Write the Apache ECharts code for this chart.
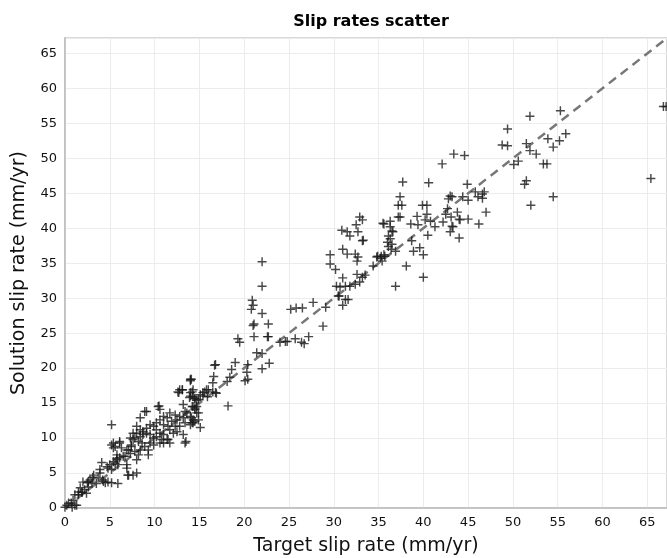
<!DOCTYPE html>
<html>
<head>
<meta charset="utf-8">
<title>Slip rates scatter</title>
<script src="https://cdn.jsdelivr.net/npm/echarts@6/dist/echarts.min.js"></script>
<style>
  html, body { margin: 0; padding: 0; background: #fff; }
  #chart { width: 667px; height: 558px; }
</style>
</head>
<body>
<div id="chart"></div>
<script>
  // [target, solution] in mm/yr
  var lowPoints = [
    [0.0,0.1],[0.2,0.4],[0.4,0.7],[0.7,0.7],[0.8,0.1],[0.9,1.1],[1.1,0.4],[1.1,1.9],[1.3,0.4],[1.5,1.9],
    [1.5,2.3],[1.7,2.9],[1.9,2.2],[1.9,2.3],[2.0,3.7],[2.2,2.6],[2.4,2.1],[2.5,3.6],[2.6,3.0],[2.6,3.8],
    [2.8,4.0],[3.0,3.7],[3.1,4.4],[3.2,4.7],[3.5,3.5],[3.7,4.3],[3.9,5.0],[3.9,5.5],[4.1,6.5],[4.2,4.0],
    [4.3,3.8],[4.5,3.6],[4.7,5.9],[4.8,3.7],[4.8,5.7],[5.0,6.2],[5.2,3.6],[5.2,5.5],[5.4,6.6],[5.6,6.4],
    [5.8,6.9],[5.8,7.1],[5.8,7.6],[5.9,3.5],[5.9,6.2],[6.1,7.2],[6.5,7.4],[6.7,7.4],[6.9,5.7],[6.9,6.2],
    [7.0,4.7],[7.1,4.7],[7.6,4.7],[8.0,5.0],[8.0,6.9],[5.2,9.0],[5.4,8.6],[5.4,9.3],[5.6,8.8],[6.1,9.3],
    [6.1,9.5],[6.3,8.6],[5.2,11.9],[6.9,8.3],[7.1,8.3],[7.3,7.8],[7.3,10.0],[7.4,8.8],[7.4,9.0],[7.6,9.8],
    [7.6,10.7],[7.8,8.1],[7.8,10.0],[8.0,10.7],[8.0,11.7],[8.2,7.6],[8.2,9.5],[8.4,8.3],[8.4,10.2],[8.4,11.2],
    [8.4,12.9],[8.6,9.3],[8.7,10.5],[8.7,10.9],[8.9,8.8],[8.9,13.8],[9.1,10.7],[9.1,11.4],[9.1,13.8],[9.3,7.6],
    [9.3,8.3],[9.5,9.3],[9.5,10.5],[9.5,11.9],[9.9,9.0],[9.9,10.0],[9.9,11.7],[10.2,10.2],[10.2,11.2],[10.2,12.2],
    [10.4,14.5],[10.5,14.6],[10.6,9.3],[10.6,10.7],[10.6,12.6],[10.6,14.1],[10.8,9.8],[11.0,9.3],[11.0,10.5],[11.0,11.9],
    [11.0,13.1],[11.4,9.8],[11.4,12.9],[11.5,9.8],[11.5,11.7],[11.7,9.3],[11.7,11.2],[11.7,13.6],[11.9,12.4],[12.1,10.7],
    [12.3,11.7],[12.3,13.3],[12.5,10.9],[12.5,12.6],[12.6,16.6],[12.7,16.5],[12.8,11.7],[12.8,13.1],[12.8,16.9],[13.1,16.9],
    [13.2,10.5],[13.2,12.9],[13.2,14.8],[13.4,9.3],[13.4,12.2],[13.4,13.8],[13.5,9.5],[13.6,13.6],[14.0,11.9],[14.0,13.1],
    [14.0,16.0],[14.0,16.5],[14.0,18.2],[14.0,18.4],[14.1,12.9],[14.1,18.4],[14.2,12.2],[14.2,14.5],[14.3,12.2],[14.3,12.6],
    [14.3,14.5],[14.3,15.9],[14.3,16.9],[14.5,12.4],[14.5,14.1],[14.5,14.3],[14.5,15.7],[14.7,13.6],[14.7,14.5],[14.9,12.6],
    [14.9,13.6],[14.9,15.5],[15.1,11.5],[15.1,16.2],[15.4,16.0],[15.6,16.6],[15.8,16.9],[15.9,15.9]
  ];
  var midPoints = [
    [13.1,16.9],[13.9,15.8],[14.2,16.6],[14.5,15.6],[14.7,15.4],[15.4,16.5],[16.0,16.9],[16.5,16.6],[16.9,16.4],
    [16.5,17.9],[16.6,18.8],[16.7,20.4],[16.8,20.5],[16.8,16.5],[18.1,18.1],[18.2,14.6],[18.4,18.7],[18.6,19.8],
    [19.0,20.8],[19.3,24.2],[19.5,23.7],[20.1,18.2],[20.3,19.4],[20.4,18.4],[20.4,20.5],[20.8,28.4],[20.9,29.7],
    [21.0,29.0],[21.0,26.1],[21.1,26.3],[21.1,24.5],[21.4,22.2],[22.0,22.1],[22.0,19.9],[22.0,27.8],[22.0,31.7],
    [22.0,35.2],[22.6,24.5],[22.7,24.5],[22.7,26.3],[22.8,20.7],[24.0,23.7],[24.6,23.8],[24.8,23.8],[25.2,28.4],
    [25.7,24.2],[25.8,28.6],[26.4,23.7],[26.5,28.6],[26.7,23.5],[27.2,24.5],[27.7,29.4],[28.8,26.0],[29.1,28.7],
    [29.6,34.9],[29.6,36.2],[30.2,34.1],[30.3,31.7],[30.5,30.3],[30.6,30.3],[30.7,31.6],[30.9,39.7],[31.0,29.0],
    [31.0,32.9],[31.0,37.0],[31.3,29.8],[31.3,31.7],[31.5,36.3],[31.5,39.5],[31.6,29.8],[31.8,31.7],[31.8,38.9],
    [32.4,32.0],[32.4,36.3],[32.5,40.5],[32.6,33.4],[32.6,35.3],[32.7,35.9],[32.7,39.5],[32.9,32.3],[32.9,41.6],
    [33.2,33.0],[33.2,38.2],[33.2,41.2],[33.3,38.3],[33.5,33.3],[34.4,34.6],[34.8,35.9],[34.9,36.0],[35.2,35.7],
    [35.3,36.0],[35.4,35.3],[35.5,40.7],[35.6,36.2],[35.6,40.6],[35.7,36.0],[36.0,38.0],[36.1,37.4],[36.1,38.9],
    [36.3,38.5],[36.3,40.2],[36.3,41.0],[36.4,37.0],[36.5,37.7],[36.5,39.6],[36.6,39.5],[36.9,31.7],[36.9,36.7],
    [37.2,41.6],[37.2,43.3],[37.4,41.6],[37.4,44.5],[37.6,43.3],[37.7,46.6],[38.1,34.6],[38.6,40.6],[38.7,38.2],
    [38.9,36.7],[39.3,41.7],[39.4,40.5],[39.6,37.2],[39.9,43.3],[40.0,33.0],[40.0,36.2],[40.2,41.2],[40.4,42.0],
    [40.4,43.3],[40.5,39.0],[40.6,46.5],[40.8,41.0],[41.3,40.2]
  ];
  var highPoints = [
    [42.1,49.2],[42.2,40.9],[42.5,42.0],[42.7,42.8],[42.8,44.2],[43.0,39.5],[43.0,44.6],[43.1,41.6],[43.2,40.3],
    [43.2,44.5],[43.3,40.2],[43.4,50.6],[43.8,42.3],[44.0,38.6],[44.0,41.3],[44.1,41.2],[44.4,44.5],[44.6,50.4],
    [44.9,46.3],[45.0,41.3],[45.0,44.0],[45.8,45.2],[46.1,44.5],[46.2,40.6],[46.6,44.3],[46.6,44.9],[46.8,45.2],
    [47.0,42.3],[48.8,51.9],[49.4,51.8],[49.4,54.2],[50.1,49.1],[50.6,49.6],[51.3,46.3],[51.5,46.8],[51.5,52.1],
    [51.9,51.1],[51.9,56.0],[52.0,43.3],[52.6,50.6],[53.4,49.2],[53.8,49.2],[53.9,52.8],[54.5,44.5],[54.5,51.6],
    [55.2,52.5],[55.3,56.8],[55.9,53.5],[65.4,47.1],[66.8,57.4],[67.1,57.4]
  ];
  var axisMax = 67.2;
  var oneToOne = [[0, 0], [axisMax, axisMax]];

  var chart = echarts.init(document.getElementById('chart'));
  var font = 'DejaVu Sans';
  var plusMark = 'path://M4.2,0H5.8V4.2H10V5.8H5.8V10H4.2V5.8H0V4.2H4.2Z';

  function makeAxis(name, gap) {
    return {
      type: 'value',
      min: 0,
      max: axisMax,
      interval: 5,
      name: name,
      nameLocation: 'middle',
      nameGap: gap,
      nameTextStyle: { fontFamily: font, fontSize: 19, color: '#111' },
      axisLine: { show: true, onZero: false, lineStyle: { color: '#bbb', width: 1.5 } },
      axisTick: { show: false },
      axisLabel: { fontFamily: font, fontSize: 13, color: '#111', margin: 8, showMaxLabel: false },
      splitLine: { show: true, lineStyle: { color: '#ececec', width: 1 } }
    };
  }

  var option = {
    backgroundColor: '#fff',
    animation: false,
    title: {
      text: 'Slip rates scatter',
      left: 366,
      top: 9,
      textAlign: 'center',
      textStyle: { fontFamily: font, fontSize: 16, fontWeight: 'bold', color: '#000' }
    },
    grid: {
      left: 65, right: 0, top: 38, bottom: 50,
      outerBoundsMode: 'none',
      containLabel: false,
      show: true, borderColor: '#ccc', borderWidth: 1.5
    },
    xAxis: makeAxis('Target slip rate (mm/yr)', 29),
    yAxis: makeAxis('Solution slip rate (mm/yr)', 36),
    series: [
      {
        type: 'line',
        data: oneToOne,
        symbol: 'none',
        lineStyle: { color: '#777', width: 2.5, type: [9, 6] },
        z: 1
      },
      {
        type: 'scatter',
        data: lowPoints.concat(midPoints, highPoints),
        symbol: plusMark,
        symbolSize: 9,
        itemStyle: { color: '#1a1a1a' },
        z: 2
      }
    ]
  };
  chart.setOption(option);
</script>
</body>
</html>
